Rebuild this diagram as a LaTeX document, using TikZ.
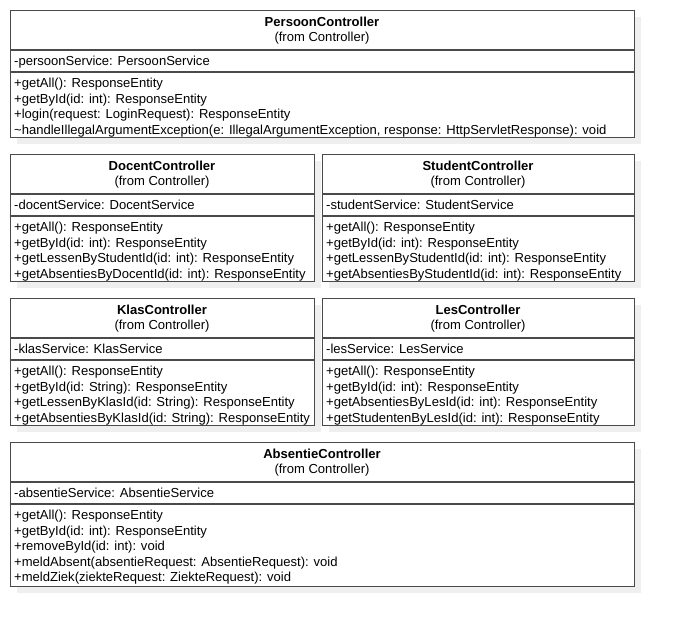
\documentclass[tikz,border=0pt]{standalone}
\usepackage{fontspec}
\setmainfont{Liberation Sans}
\usetikzlibrary{shadows}
\definecolor{linecol}{HTML}{4A4A4A}
\definecolor{shadowcol}{HTML}{EFEFEF}
\tikzset{
  umlbox/.style={draw=linecol, line width=1.2pt, fill=white, anchor=north west, inner sep=0pt,
    drop shadow={shadow xshift=6pt, shadow yshift=-6pt, fill=shadowcol, opacity=1}},
  txt/.style={anchor=base west, inner sep=0pt, font=\fontsize{13.05}{15}\selectfont},
  title/.style={anchor=base, inner sep=0pt, font=\fontsize{13.05}{15}\selectfont\bfseries},
  sub/.style={anchor=base, inner sep=0pt, font=\fontsize{13.05}{15}\selectfont},
  sep/.style={draw=linecol, line width=1.2pt}
}
\begin{document}
\begin{tikzpicture}[x=1pt,y=-1pt]
\useasboundingbox (0,0) rectangle (675,627);
% boxes
\node[umlbox, minimum width=624pt, minimum height=127pt] (persoon) at (10,10) {};
\node[umlbox, minimum width=304pt, minimum height=127pt] (docent) at (10,154) {};
\node[umlbox, minimum width=312pt, minimum height=127pt] (student) at (322,154) {};
\node[umlbox, minimum width=304pt, minimum height=127pt] (klas) at (10,298) {};
\node[umlbox, minimum width=312pt, minimum height=127pt] (les) at (322,298) {};
\node[umlbox, minimum width=624pt, minimum height=144pt] (absentie) at (10,442) {};
% separators
\foreach \b in {persoon,docent,student,klas,les,absentie}{
  \draw[sep] ([yshift=-40pt]\b.north west) -- ([yshift=-40pt]\b.north east);
  \draw[sep] ([yshift=-62pt]\b.north west) -- ([yshift=-62pt]\b.north east);
}
% Persoon
\node[title] (pt) at (322,26.5) {PersoonController};
\node[sub] (pf) at (322,41.5) {(from Controller)};
\node[txt] (pa) at (14,65) {-persoonService: PersoonService};
\node[txt] (pm1) at (14,87.5) {+getAll(): ResponseEntity};
\node[txt] (pm2) at (14,103) {+getById(id: int): ResponseEntity};
\node[txt] (pm3) at (14,118.5) {+login(request: LoginRequest): ResponseEntity};
\node[txt] (pm4) at (14,134) {\textasciitilde handleIllegalArgumentException(e: IllegalArgumentException, response: HttpServletResponse): void};
% Docent
\node[title] (dt) at (162,170.5) {DocentController};
\node[sub] (df) at (162,185.5) {(from Controller)};
\node[txt] (da) at (14,209) {-docentService: DocentService};
\node[txt] (dm1) at (14,231.5) {+getAll(): ResponseEntity};
\node[txt] (dm2) at (14,247) {+getById(id: int): ResponseEntity};
\node[txt] (dm3) at (14,262.5) {+getLessenByStudentId(id: int): ResponseEntity};
\node[txt] (dm4) at (14,278) {+getAbsentiesByDocentId(id: int): ResponseEntity};
% Student
\node[title] (st) at (478,170.5) {StudentController};
\node[sub] (sf) at (478,185.5) {(from Controller)};
\node[txt] (sa) at (326,209) {-studentService: StudentService};
\node[txt] (sm1) at (326,231.5) {+getAll(): ResponseEntity};
\node[txt] (sm2) at (326,247) {+getById(id: int): ResponseEntity};
\node[txt] (sm3) at (326,262.5) {+getLessenByStudentId(id: int): ResponseEntity};
\node[txt] (sm4) at (326,278) {+getAbsentiesByStudentId(id: int): ResponseEntity};
% Klas
\node[title] (kt) at (162,314.5) {KlasController};
\node[sub] (kf) at (162,329.5) {(from Controller)};
\node[txt] (ka) at (14,353) {-klasService: KlasService};
\node[txt] (km1) at (14,375.5) {+getAll(): ResponseEntity};
\node[txt] (km2) at (14,391) {+getById(id: String): ResponseEntity};
\node[txt] (km3) at (14,406.5) {+getLessenByKlasId(id: String): ResponseEntity};
\node[txt] (km4) at (14,422) {+getAbsentiesByKlasId(id: String): ResponseEntity};
% Les
\node[title] (lt) at (478,314.5) {LesController};
\node[sub] (lf) at (478,329.5) {(from Controller)};
\node[txt] (la) at (326,353) {-lesService: LesService};
\node[txt] (lm1) at (326,375.5) {+getAll(): ResponseEntity};
\node[txt] (lm2) at (326,391) {+getById(id: int): ResponseEntity};
\node[txt] (lm3) at (326,406.5) {+getAbsentiesByLesId(id: int): ResponseEntity};
\node[txt] (lm4) at (326,422) {+getStudentenByLesId(id: int): ResponseEntity};
% Absentie
\node[title] (at) at (322,458.5) {AbsentieController};
\node[sub] (af) at (322,473.5) {(from Controller)};
\node[txt] (aa) at (14,497) {-absentieService: AbsentieService};
\node[txt] (am1) at (14,519.5) {+getAll(): ResponseEntity};
\node[txt] (am2) at (14,535) {+getById(id: int): ResponseEntity};
\node[txt] (am3) at (14,550.5) {+removeById(id: int): void};
\node[txt] (am4) at (14,566) {+meldAbsent(absentieRequest: AbsentieRequest): void};
\node[txt] (am5) at (14,581.5) {+meldZiek(ziekteRequest: ZiekteRequest): void};
\end{tikzpicture}
\end{document}
